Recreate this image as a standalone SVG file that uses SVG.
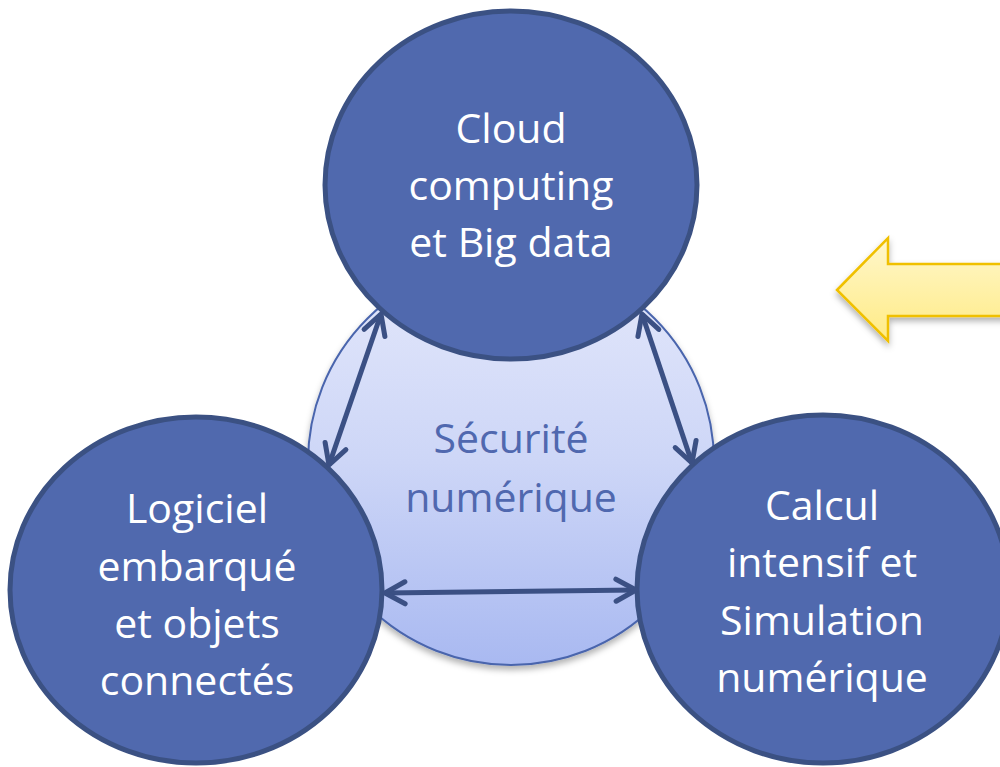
<svg xmlns="http://www.w3.org/2000/svg" width="1000" height="767" viewBox="0 0 1000 767">
  <defs>
    <style>
      .node { fill: #5069AE; stroke: #3B5183; stroke-width: 5; }
      .ntext { font-family: "Open Sans", "Noto Sans", sans-serif; font-size: 41px; fill: #FFFFFF; text-anchor: middle; }
      .ctext { font-family: "Open Sans", "Noto Sans", sans-serif; font-size: 41px; fill: #5068AF; text-anchor: middle; }
      .conn { fill: none; stroke: #3B5084; stroke-width: 5; marker-start: url(#head); marker-end: url(#head); }
    </style>
    <linearGradient id="centerGrad" x1="0" y1="0" x2="0" y2="1">
      <stop offset="0" stop-color="#E4E8FB"/>
      <stop offset="0.5" stop-color="#CDD6F7"/>
      <stop offset="1" stop-color="#A9B9F1"/>
    </linearGradient>
    <linearGradient id="yellowGrad" x1="0" y1="0" x2="0" y2="1">
      <stop offset="0" stop-color="#FFF7CC"/>
      <stop offset="1" stop-color="#FFEB85"/>
    </linearGradient>
    <filter id="shadow" x="-20%" y="-20%" width="140%" height="150%">
      <feDropShadow dx="0" dy="4" stdDeviation="3" flood-color="#000000" flood-opacity="0.3"/>
    </filter>
    <marker id="head" viewBox="-24 -14 28 28" refX="0" refY="0" markerWidth="28" markerHeight="28" markerUnits="userSpaceOnUse" orient="auto-start-reverse">
      <path d="M-20,-11 L0,0 L-20,11" fill="none" stroke="#3B5084" stroke-width="5" stroke-linecap="round" stroke-linejoin="round"/>
    </marker>
  </defs>

  <g id="securite">
    <circle cx="511" cy="462" r="203" fill="url(#centerGrad)" stroke="#4A65AD" stroke-width="2" filter="url(#shadow)"/>
    <text class="ctext" x="511" y="453">Sécurité</text>
    <text class="ctext" x="511" y="512">numérique</text>
  </g>

  <g id="cloud">
    <ellipse class="node" cx="511" cy="185" rx="186" ry="174"/>
    <text class="ntext" x="511" y="143">Cloud</text>
    <text class="ntext" x="511" y="200">computing</text>
    <text class="ntext" x="511" y="257">et Big data</text>
  </g>

  <g id="logiciel">
    <ellipse class="node" cx="196" cy="590" rx="186" ry="173"/>
    <text class="ntext" x="197" y="523">Logiciel</text>
    <text class="ntext" x="197" y="581">embarqué</text>
    <text class="ntext" x="197" y="638">et objets</text>
    <text class="ntext" x="197" y="695">connectés</text>
  </g>

  <g id="calcul">
    <ellipse class="node" cx="823" cy="589" rx="186" ry="174"/>
    <text class="ntext" x="822" y="520">Calcul</text>
    <text class="ntext" x="822" y="577">intensif et</text>
    <text class="ntext" x="822" y="635">Simulation</text>
    <text class="ntext" x="822" y="692">numérique</text>
  </g>

  <g id="connectors">
    <line class="conn" x1="381" y1="314" x2="329" y2="465"/>
    <line class="conn" x1="642" y1="314" x2="692" y2="463"/>
    <line class="conn" x1="385" y1="593" x2="636" y2="590"/>
  </g>

  <g id="yellow-arrow">
    <path d="M837,290 L888,238 L888,264 L1006,264 L1006,316 L888,316 L888,341 Z" fill="url(#yellowGrad)" stroke="#F0C000" stroke-width="2.5" stroke-linejoin="miter" filter="url(#shadow)"/>
  </g>
</svg>
